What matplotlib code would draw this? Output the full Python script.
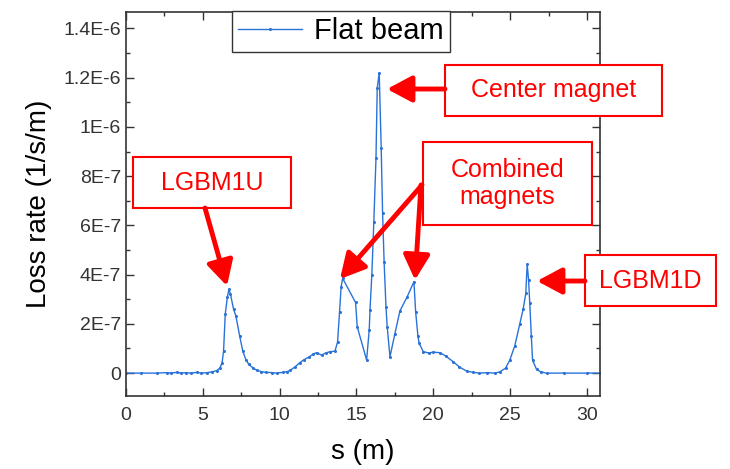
import numpy as np
import matplotlib
matplotlib.use("Agg")
import matplotlib.pyplot as plt
from matplotlib.patches import Rectangle, FancyArrowPatch

plt.rcParams['font.family'] = ['Liberation Sans', 'DejaVu Sans']

# ---- data (s in m, loss rate in units of 1e-7 1/s/m) ----
s_m = [0.0, 1.0, 2.0, 2.7, 2.9, 3.3, 3.6, 3.9, 4.2, 4.6, 4.9, 5.3, 5.6, 5.9, 6.1,
       6.25, 6.35, 6.46, 6.6, 6.70, 6.8, 7.0, 7.16, 7.4, 7.6, 7.81, 8.0, 8.28, 8.5,
       8.8, 9.1, 9.5, 9.8, 10.2, 10.5, 10.7, 11.0, 11.3, 11.6, 11.9, 12.2, 12.41,
       12.73, 13.0, 13.27, 13.6, 13.77, 13.9, 14.0, 14.1, 14.94, 15.05, 15.66,
       15.83, 15.88, 16.0, 16.13, 16.27, 16.35, 16.48, 16.61, 16.70, 16.8, 16.92,
       17.0, 17.18, 17.5, 17.83, 18.3, 18.74, 18.85, 19.0, 19.08, 19.35, 19.7,
       20.0, 20.43, 20.8, 21.3, 21.7, 22.17, 22.6, 23.0, 23.5, 24.0, 24.33, 24.7,
       24.98, 25.3, 25.63, 25.85, 26.02, 26.11, 26.2, 26.28, 26.38, 26.46, 26.72,
       27.0, 27.37, 28.5, 30.0, 30.9]
loss_e7 = [0.0, 0.0, 0.0, 0.02, 0.0, 0.03, 0.0, 0.02, 0.0, 0.03, 0.0, 0.02, 0.05,
           0.1, 0.2, 0.4, 0.9, 2.4, 3.1, 3.4, 3.2, 2.6, 2.3, 1.5, 0.9, 0.53, 0.35,
           0.2, 0.12, 0.06, 0.03, 0.02, 0.0, 0.03, 0.06, 0.12, 0.25, 0.42, 0.55,
           0.65, 0.78, 0.83, 0.73, 0.82, 0.87, 0.89, 1.27, 2.5, 3.5, 3.85, 2.87,
           1.88, 0.53, 1.75, 2.56, 4.0, 6.15, 8.73, 11.57, 12.2, 9.13, 6.49, 4.5,
           2.7, 1.88, 0.66, 1.6, 2.53, 3.1, 3.71, 2.5, 1.5, 1.21, 0.87, 0.82, 0.85,
           0.83, 0.7, 0.46, 0.25, 0.08, 0.03, 0.0, 0.02, 0.0, 0.05, 0.2, 0.53, 1.1,
           2.0, 2.6, 3.24, 4.42, 3.8, 2.83, 1.5, 0.53, 0.15, 0.05, 0.0, 0.0, 0.0,
           0.0]
series_label = "Flat beam"

x_ticks = [0, 5, 10, 15, 20, 25, 30]
y_ticks = [0, 2e-7, 4e-7, 6e-7, 8e-7, 1e-6, 1.2e-6, 1.4e-6]
y_tick_labels = ['0', '2E-7', '4E-7', '6E-7', '8E-7', '1E-6', '1.2E-6', '1.4E-6']

W, H = 730, 469
fig = plt.figure(figsize=(W / 100, H / 100), dpi=100)
ax = fig.add_axes([126 / W, 1 - 396 / H, (600 - 126) / W, (396 - 12) / H])

line_color = '#2a72d8'
y = np.array(loss_e7) * 1e-7
ax.plot(s_m, y, color=line_color, lw=1.0, marker='o', ms=1.2, label=series_label)

ax.set_xlim(0, 30.85)
ax.set_ylim(-0.93e-7, 1.467e-6)
ax.set_xticks(x_ticks)
ax.set_xticks(np.arange(2.5, 31, 5), minor=True)
ax.set_yticks(y_ticks)
ax.set_yticklabels(y_tick_labels)
ax.set_yticks(np.arange(1e-7, 1.45e-6, 2e-7), minor=True)

spine_c = '#333333'
for sp in ax.spines.values():
    sp.set_color(spine_c)
    sp.set_linewidth(1.2)
ax.tick_params(which='both', direction='in', top=True, right=True, colors=spine_c,
               labelcolor='#333333', labelsize=14, width=1.0)
ax.tick_params(which='major', length=6)
ax.tick_params(which='minor', length=3)
ax.tick_params(axis='x', pad=8)

ax.set_xlabel('s (m)', fontsize=20, labelpad=11)
ax.set_ylabel('Loss rate (1/s/m)', fontsize=20, labelpad=8)

leg = ax.legend(loc='upper center', bbox_to_anchor=((341 - 126) / 474, 1.003),
                fontsize=21, frameon=True, fancybox=False, borderpad=0.22,
                handlelength=2.2, handletextpad=0.4, borderaxespad=0,
                markerscale=1.0)
leg.get_frame().set_edgecolor('#333333')
leg.get_frame().set_linewidth(1.0)
leg.get_frame().set_alpha(1)


def P(px, py):
    return (px / W, 1 - py / H)


red = '#ff0000'


def box(x0, y0, x1, y1, text, fs=18):
    r = Rectangle(P(x0, y1), (x1 - x0) / W, (y1 - y0) / H, transform=fig.transFigure,
                  fill=True, facecolor='white', edgecolor=red, lw=1.5, zorder=10,
                  clip_on=False)
    fig.patches.append(r)
    fig.text((x0 + x1) / 2 / W, 1 - (y0 + y1) / 2 / H, text, color=red, fontsize=fs,
             ha='center', va='center', zorder=11, linespacing=1.15)


def arrow(x0, y0, x1, y1):
    a = FancyArrowPatch(P(x0, y0), P(x1, y1), transform=fig.transFigure,
                        arrowstyle='-|>,head_length=0.75,head_width=0.4',
                        mutation_scale=20, color=red, lw=3.5, zorder=12,
                        shrinkA=0, shrinkB=0)
    fig.patches.append(a)


box(133, 157, 291, 208, 'LGBM1U')
arrow(205, 208, 227, 286)

box(445, 65, 662, 116, 'Center magnet')
arrow(445, 89, 387, 89)

box(423, 142, 592, 225, 'Combined\nmagnets')
arrow(422, 185, 340, 279)
arrow(421, 185, 415, 280)

box(585, 255, 716, 306, 'LGBM1D')
arrow(585, 281, 537, 281)

fig.savefig('out.png', dpi=100)
